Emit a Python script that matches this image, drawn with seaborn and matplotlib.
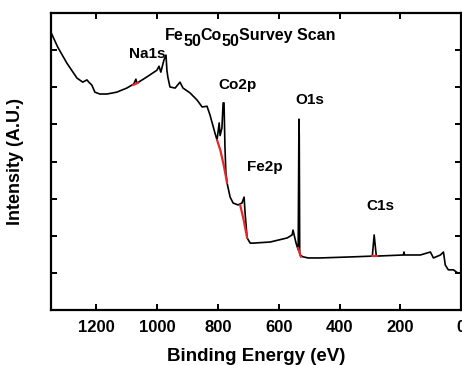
import numpy as np
import pandas as pd
import matplotlib
matplotlib.use("Agg")
import matplotlib.pyplot as plt
import matplotlib.transforms as mtransforms
import seaborn as sns

# survey spectrum (binding energy in eV, intensity in arbitrary units)
energy = [1350, 1327, 1297, 1264, 1245, 1231, 1225, 1215, 1205, 1189, 1165, 1133,
          1100, 1077, 1070, 1067, 1034, 1001, 994, 988, 978, 971, 968, 965, 958,
          941, 925, 915, 892, 869, 852, 836, 826, 810, 803, 796, 793, 787, 783,
          780, 777, 774, 770, 760, 750, 734, 721, 714, 711, 704, 694, 684, 628,
          572, 556, 553, 543, 536, 533.5, 532.5, 531, 530, 520, 503, 464, 355,
          292, 286, 279, 190, 188, 186, 134, 101, 91, 68, 58, 52, 42, 25, 12, -4]
intensity = [7.49, 7.08, 6.65, 6.25, 6.14, 6.20, 6.14, 6.06, 5.87, 5.82, 5.82, 5.87,
             5.98, 6.09, 6.22, 6.11, 6.28, 6.46, 6.57, 6.41, 6.73, 6.87, 6.46, 6.28, 6.01,
             5.98, 6.14, 5.98, 5.85, 5.66, 5.47, 5.49, 5.25, 4.77, 4.58, 5.04, 4.70, 4.90, 5.58,
             5.58, 4.40, 3.70, 3.42, 3.04, 2.88, 2.83, 2.88, 3.04, 2.64, 1.94, 1.80, 1.80, 1.83,
             1.94, 2.02, 2.15, 1.80, 1.62, 5.14, 4.70, 1.55, 1.48, 1.43, 1.40, 1.40, 1.43,
             1.45, 2.02, 1.45, 1.48, 1.56, 1.48, 1.48, 1.56, 1.40, 1.48, 1.56, 1.21, 1.08, 1.08, 1.00, 1.00]

# background segments under the fitted peaks
bg_na_x = [1080, 1072, 1063]
bg_na_y = [6.06, 6.09, 6.12]
bg_co_x = [803, 792, 781, 770]
bg_co_y = [4.58, 4.30, 3.90, 3.42]
bg_fe_x = [727, 716, 704]
bg_fe_y = [2.83, 2.45, 1.94]
bg_o_x = [536, 531, 527]
bg_o_y = [1.67, 1.52, 1.43]
bg_c_x = [292, 284, 276]
bg_c_y = [1.45, 1.45, 1.45]

peak_labels = ["Na1s", "Co2p", "O1s", "Fe2p", "C1s"]
label_x = [1034, 737, 497, 645, 266]
label_y = [6.90, 6.06, 5.66, 3.85, 2.80]

# title pieces: (text, is_subscript)
title_parts = [("Fe", False), ("50", True), ("Co", False), ("50", True), ("Survey Scan", False)]

sns.set_style("ticks")
plt.rcParams['font.family'] = ['Liberation Sans', 'DejaVu Sans']
for key in ['text.color', 'axes.labelcolor', 'xtick.color', 'ytick.color', 'axes.edgecolor']:
    plt.rcParams[key] = 'black'

fig = plt.figure(figsize=(4.62, 3.65), dpi=100)
ax = fig.add_axes([0.110, 0.151, 0.888, 0.813])

df = pd.DataFrame({"energy": energy, "intensity": intensity})
sns.lineplot(data=df, x="energy", y="intensity", sort=False, estimator=None,
             color="black", lw=1.2, ax=ax)
for bx, by in [(bg_na_x, bg_na_y), (bg_co_x, bg_co_y), (bg_fe_x, bg_fe_y),
               (bg_o_x, bg_o_y), (bg_c_x, bg_c_y)]:
    sns.lineplot(x=bx, y=by, sort=False, estimator=None, color="#e8262a", lw=1.6, ax=ax)

for lab, lx, ly in zip(peak_labels, label_x, label_y):
    ax.text(lx, ly, lab, ha="center", va="center", fontsize=11, fontweight="bold")

ax.set_xlim(1350, 0)
ax.set_ylim(0, 8)

# title with full-size, lowered subscripts, laid out piece by piece
renderer = fig.canvas.get_renderer()
dx_px = 0.0
for txt, sub in title_parts:
    shift = -6 if sub else 0
    tr = mtransforms.offset_copy(ax.transData, fig=fig, x=dx_px, y=shift, units="dots")
    t = ax.text(974, 7.41, txt, ha="left", va="center", fontsize=11.5,
                fontweight="bold", transform=tr)
    dx_px += t.get_window_extent(renderer).width - 0.5

ax.set_xticks([1200, 1000, 800, 600, 400, 200, 0])
ax.set_yticks([1, 2, 3, 4, 5, 6, 7])
ax.set_yticklabels([])
ax.tick_params(direction="in", length=4, width=1.4, top=True, right=True,
               labelsize=12, pad=7)
for lbl in ax.get_xticklabels():
    lbl.set_fontweight("bold")
for sp in ax.spines.values():
    sp.set_linewidth(1.6)

ax.set_xlabel("Binding Energy (eV)", fontsize=13.5, fontweight="bold", labelpad=10)
ax.set_ylabel("Intensity (A.U.)", fontsize=13, fontweight="bold", labelpad=12)

fig.savefig("out.png", dpi=100)
